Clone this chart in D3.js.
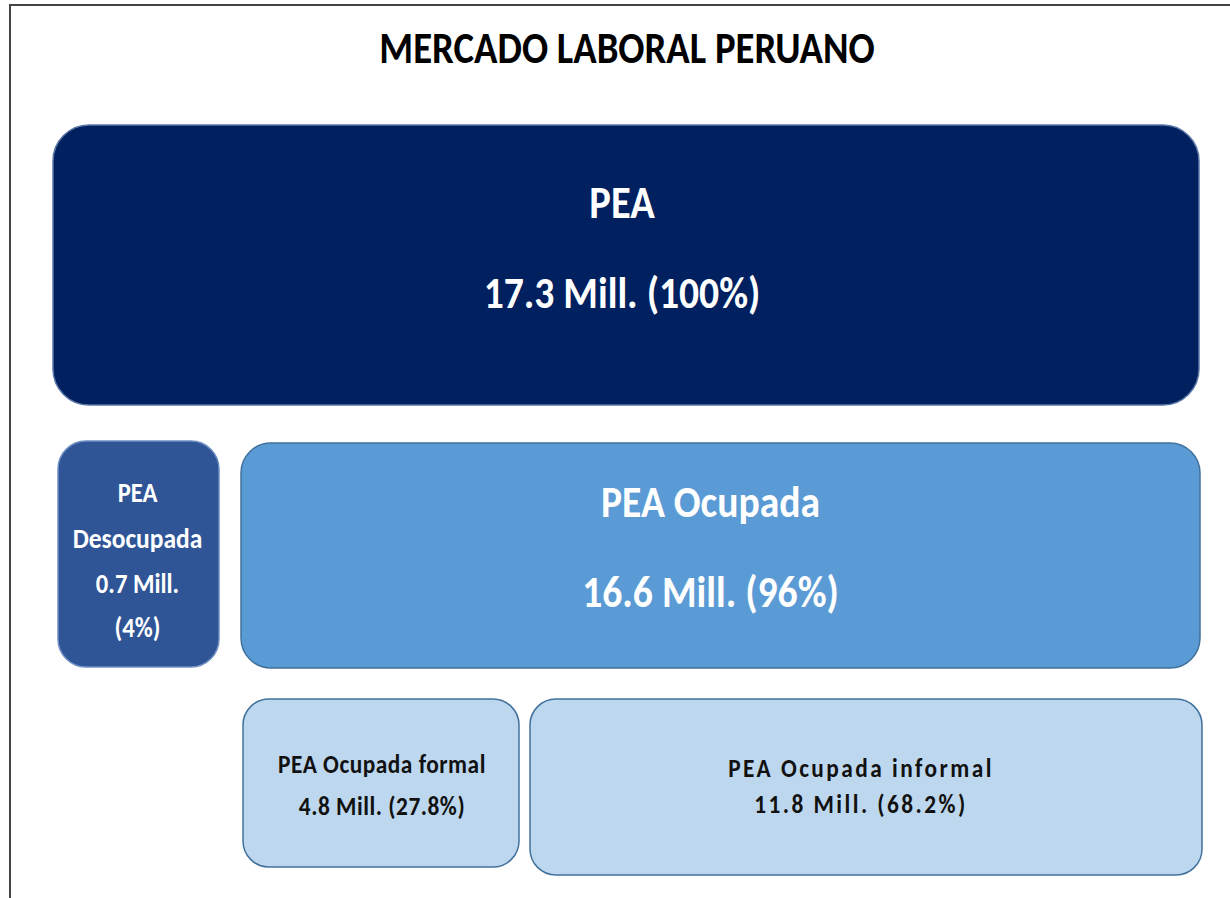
<!DOCTYPE html>
<html>
<head>
<meta charset="utf-8">
<style>
  body { margin: 0; background: #fff; }
  svg { display: block; }
  .lbl { font-family: Carlito, Lato, "Open Sans", sans-serif; font-weight: bold; text-anchor: middle; }
</style>
</head>
<body>
<script src="https://cdn.jsdelivr.net/npm/d3@7"></script>
<script>
// chart data
var title = "MERCADO LABORAL PERUANO";
var groups = ["PEA", "PEA Desocupada", "PEA Ocupada", "PEA Ocupada formal", "PEA Ocupada informal"];
var millions = [17.3, 0.7, 16.6, 4.8, 11.8];
var shares = ["100%", "4%", "96%", "27.8%", "68.2%"];

// box layout (pixels), same order as groups; dx nudges the label off the box centre
var boxes = [
  {x: 53,  y: 125, w: 1146, h: 280, r: 36, fill: "#002060", stroke: "#5a77a6", ink: "#fff", size: [46, 45], base: [218, 308], sp: 0, dx: -4},
  {x: 58,  y: 441, w: 161,  h: 226, r: 28, fill: "#2f5597", stroke: "#6f8fc4", ink: "#fff", size: [28, 29, 28, 28], base: [502, 548, 593, 637], sp: 0, dx: -1},
  {x: 241, y: 443, w: 959,  h: 225, r: 30, fill: "#5b9bd5", stroke: "#41719c", ink: "#fff", size: [45, 45], base: [517, 607], sp: 0, dx: -10},
  {x: 243, y: 699, w: 276,  h: 168, r: 26, fill: "#bdd7ee", stroke: "#41719c", ink: "#111", size: [26.5, 26.5], base: [773, 815], sp: 0.6, dx: 1},
  {x: 530, y: 699, w: 672,  h: 176, r: 26, fill: "#bdd7ee", stroke: "#41719c", ink: "#111", size: [26.5, 26.5], base: [777, 813], sp: 2.8, dx: -5}
];

var W = 1230, H = 898;
var squeeze = 0.88; // narrow the font toward the original's look

function linesFor(i) {
  var v = millions[i] + " Mill.";
  var p = "(" + shares[i] + ")";
  if (i === 1) return ["PEA", "Desocupada", v, p];
  return [groups[i], v + " " + p];
}

var svg = d3.select("body").append("svg")
    .attr("width", W)
    .attr("height", H);

// outer frame (left and top edges visible)
svg.append("path")
    .attr("d", "M10," + H + "V5H" + W)
    .attr("fill", "none")
    .attr("stroke", "#444")
    .attr("stroke-width", 2);

svg.append("text")
    .attr("class", "lbl")
    .attr("transform", "translate(627,63) scale(" + squeeze + ",1)")
    .attr("font-size", 44)
    .attr("fill", "#000")
    .text(title);

var g = svg.selectAll("g.box")
  .data(groups)
  .enter().append("g")
    .attr("class", "box");

g.append("rect")
    .attr("x", function(d, i) { return boxes[i].x; })
    .attr("y", function(d, i) { return boxes[i].y; })
    .attr("width", function(d, i) { return boxes[i].w; })
    .attr("height", function(d, i) { return boxes[i].h; })
    .attr("rx", function(d, i) { return boxes[i].r; })
    .attr("fill", function(d, i) { return boxes[i].fill; })
    .attr("stroke", function(d, i) { return boxes[i].stroke; })
    .attr("stroke-width", 1.5);

g.each(function(d, i) {
  var b = boxes[i];
  var cx = b.x + b.w / 2 + b.dx;
  d3.select(this).selectAll("text")
    .data(linesFor(i))
    .enter().append("text")
      .attr("class", "lbl")
      .attr("transform", function(t, j) { return "translate(" + cx + "," + b.base[j] + ") scale(" + squeeze + ",1)"; })
      .attr("font-size", function(t, j) { return b.size[j]; })
      .attr("letter-spacing", b.sp)
      .attr("fill", b.ink)
      .text(function(t) { return t; });
});
</script>
</body>
</html>
